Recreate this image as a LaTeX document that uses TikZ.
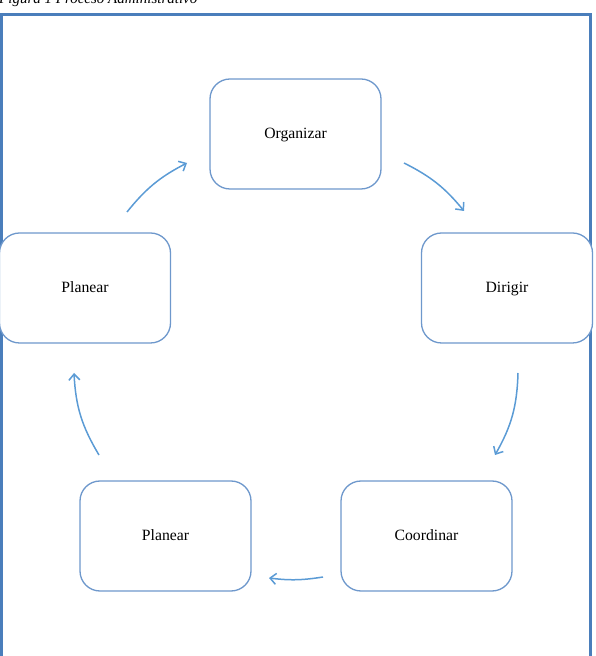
\documentclass[tikz,border=0pt]{standalone}
\usepackage{fontspec}
\setmainfont{Liberation Serif}
\usetikzlibrary{arrows.meta}
\definecolor{frameblue}{HTML}{4A7EBB}
\definecolor{boxblue}{HTML}{6E98CC}
\definecolor{arrowblue}{HTML}{5B9BD5}
\begin{document}
\begin{tikzpicture}[x=1pt,y=1pt,
  stagebox/.style={draw=boxblue, line width=1.3pt, fill=white, rounded corners=20pt,
    minimum width=171pt, minimum height=110pt, inner sep=0pt,
    text height=11.5pt, text depth=2.5pt,
    font=\fontsize{15.7}{18}\selectfont},
  cyclearrow/.style={draw=arrowblue, line width=1.5pt,
    -{Straight Barb[length=6pt,width=11pt,line width=1.5pt]}}]
\useasboundingbox (0,0) rectangle (595,656);
\clip (0,0) rectangle (595,656);
% caption, partly above the page
\node[anchor=base west, inner sep=0pt, font=\itshape\fontsize{15}{18}\selectfont]
  (caption) at (-1,652.5) {Figura 1 Proceso Administrativo};
% outer frame, open at the bottom
\draw[frameblue, line width=3pt] (1.5,-10) -- (1.5,641) -- (590.5,641) -- (590.5,-10);
% the five stages
\node[stagebox] (org) at (295.5,522) {Organizar};
\node[stagebox] (dir) at (507,368) {Dirigir};
\node[stagebox] (plan1) at (85,368) {Planear};
\node[stagebox] (plan2) at (165.5,120) {Planear};
\node[stagebox] (coord) at (426.5,120) {Coordinar};
% arrow ends
\coordinate (a1s) at (127,444); \coordinate (a1e) at (187,493);
\coordinate (a2s) at (404,493); \coordinate (a2e) at (464,445);
\coordinate (a3s) at (518,283); \coordinate (a3e) at (495,201);
\coordinate (a4s) at (323,79);  \coordinate (a4e) at (269,78);
\coordinate (a5s) at (99,201);  \coordinate (a5e) at (74,283);
% clockwise cycle
\draw[cyclearrow] (a1s) to[bend left=12] (a1e);
\draw[cyclearrow] (a2s) to[bend left=12] (a2e);
\draw[cyclearrow] (a3s) to[bend left=14] (a3e);
\draw[cyclearrow] (a4s) to[bend left=8] (a4e);
\draw[cyclearrow] (a5s) to[bend left=14] (a5e);
\end{tikzpicture}
\end{document}
